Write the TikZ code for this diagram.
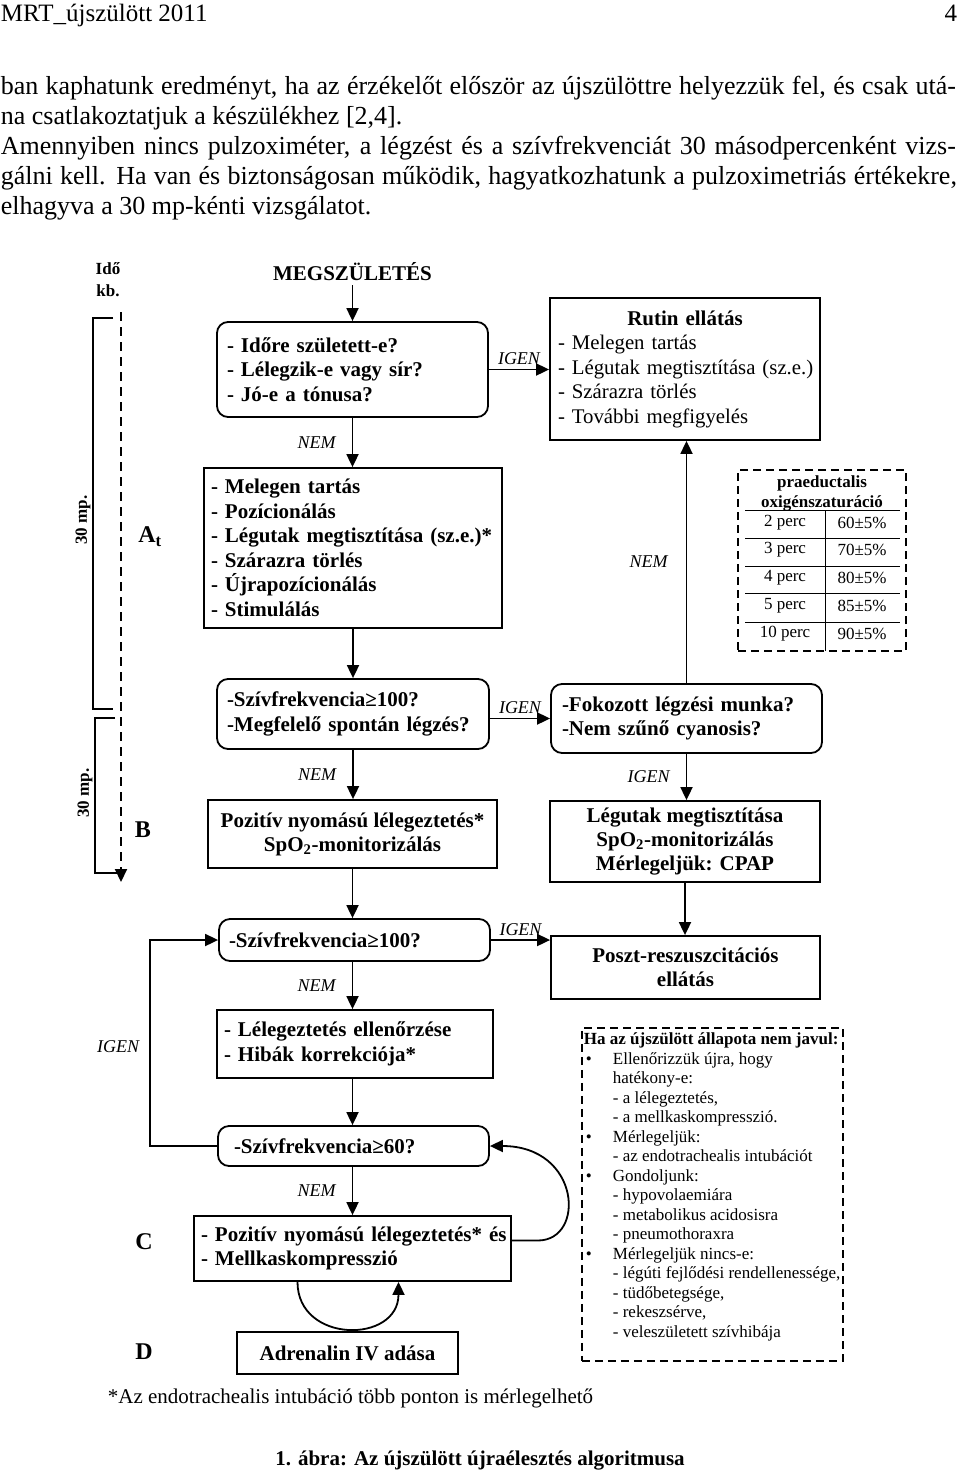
\documentclass[tikz,border=0pt]{standalone}
\usepackage{fontspec}
\setmainfont{Liberation Serif}
\usetikzlibrary{arrows.meta, positioning, calc}
\newcommand{\fsize}[2]{\fontsize{#1}{#2}\selectfont}
\newcommand{\bul}{\makebox[29pt][l]{\hspace{2pt}•}}
\newcommand{\ind}{\hspace*{29pt}}
\tikzset{
  every picture/.style={line width=1.8pt},
  txt/.style={inner sep=0pt, anchor=base west, font=\fsize{26}{30}},
  rbox/.style={draw, rounded corners=11pt, align=left, inner ysep=0pt, font=\bfseries\fsize{21}{24.5}},
  sbox/.style={draw, align=left, inner ysep=0pt, font=\bfseries\fsize{21}{24.5}},
  cbox/.style={draw, align=center, inner ysep=0pt, font=\bfseries\fsize{21}{24}},
  arr/.style={-{Triangle[length=13pt, width=12pt]}},
  lbl/.style={font=\itshape\fsize{18}{20}, inner sep=2pt},
  tag/.style={font=\bfseries\fsize{24}{26}, inner sep=0pt},
  tm/.style={font=\bfseries\fsize{17}{22}, inner sep=0pt},
  dashbox/.style={draw, dash pattern=on 8pt off 5pt, line width=1.8pt},
  cell/.style={font=\fsize{17}{20}, inner sep=0pt},
}
\begin{document}
\begin{tikzpicture}[x=1pt, y=-1pt]
  \useasboundingbox (0,0) rectangle (960,1473);
  % page text
  \node[txt, font=\fsize{25}{30}] (hdr) at (0,21) {MRT\_újszülött 2011};
  \node[txt, font=\fsize{25}{30}, anchor=base east] (pgno) at (958,21) {4};
  \node[txt] (l1) at (0,94) {\makebox[955pt][s]{ban kaphatunk eredményt, ha az érzékelőt először az újszülöttre helyezzük fel, és csak utá-}};
  \node[txt] (l2) at (0,124) {na csatlakoztatjuk a készülékhez [2,4].};
  \node[txt] (l3) at (0,154) {\makebox[955pt][s]{Amennyiben nincs pulzoximéter, a légzést és a szívfrekvenciát 30 másodpercenként vizs-}};
  \node[txt] (l4) at (0,184) {\makebox[956pt][s]{gálni kell. Ha van és biztonságosan működik, hagyatkozhatunk a pulzoximetriás értékekre,}};
  \node[txt] (l5) at (0,214) {elhagyva a 30 mp-kénti vizsgálatot.};

  % time axis
  \node[tm, align=center] (ido) at (108,280) {Idő\\kb.};
  \coordinate (ttop) at (121,312);
  \coordinate (tbot) at (121,882);
  \draw[arr, dash pattern=on 9pt off 6pt, line width=2pt] (ttop) -- (tbot);
  \draw[line width=1.5pt] (113,318) -- (93,318) -- (93,709) -- (113,709);
  \draw[line width=1.5pt] (115,718) -- (95,718) -- (95,873) -- (121,873);
  \node[tm, rotate=90] (mp1) at (83,520) {30 mp.};
  \node[tm, rotate=90] (mp2) at (85,793) {30 mp.};
  \node[tag] (tagA) at (150,537) {A\textsubscript{t}};
  \node[tag] (tagB) at (143,830) {B};
  \node[tag] (tagC) at (144,1242) {C};
  \node[tag] (tagD) at (144,1352) {D};

  % main column
  \node[font=\bfseries\fsize{21}{24}] (born) at (352.5,272) {MEGSZÜLETÉS};
  \node[rbox, inner xsep=10pt, text width=251pt, minimum height=95pt] (q1) at (352.5,369.5)
    {- Időre született-e?\\- Lélegzik-e vagy sír?\\- Jó-e a tónusa?};
  \node[sbox, inner xsep=8pt, text width=254pt, minimum height=142pt, font=\fsize{20.8}{24.5}] (rutin) at (685,369)
    {\makebox[254pt][c]{\bfseries\fsize{21}{24.5}Rutin ellátás}\\- Melegen tartás\\\mbox{- Légutak megtisztítása (sz.e.)}\\- Szárazra törlés\\- További megfigyelés};
  \node[sbox, inner xsep=7pt, text width=284pt, minimum height=160pt] (care) at (353,548)
    {- Melegen tartás\\- Pozícionálás\\\mbox{- Légutak megtisztítása (sz.e.)*}\\- Szárazra törlés\\- Újrapozícionálás\\- Stimulálás};
  \node[rbox, inner xsep=10pt, text width=252pt, minimum height=70pt] (q3) at (353,714)
    {-Szívfrekvencia≥100?\\-Megfelelő spontán légzés?};
  \node[rbox, inner xsep=11pt, text width=249pt, minimum height=69pt] (q4) at (686.5,718.5)
    {-Fokozott légzési munka?\\-Nem szűnő cyanosis?};
  \node[cbox, minimum width=289pt, minimum height=68pt] (ppv) at (352.5,834)
    {Pozitív nyomású lélegeztetés*\\SpO\textsubscript{2}-monitorizálás};
  \node[cbox, minimum width=270pt, minimum height=81pt] (cpap) at (685,841.5)
    {Légutak megtisztítása\\SpO\textsubscript{2}-monitorizálás\\Mérlegeljük: CPAP};
  \node[rbox, inner xsep=10pt, text width=251pt, minimum height=42pt] (q5) at (354.5,940)
    {-Szívfrekvencia≥100?};
  \node[cbox, minimum width=269pt, minimum height=63pt] (post) at (685.5,967.5)
    {Poszt-reszuszcitációs\\ellátás};
  \node[sbox, inner xsep=7pt, text width=262pt, minimum height=68pt] (check) at (355,1044)
    {- Lélegeztetés ellenőrzése\\- Hibák korrekciója*};
  \node[rbox, inner xsep=16pt, text width=239pt, minimum height=40pt] (q7) at (353.5,1146)
    {-Szívfrekvencia≥60?};
  \node[sbox, inner xsep=7pt, text width=303pt, minimum height=65pt] (comp) at (352.5,1248.5)
    {\mbox{- Pozitív nyomású lélegeztetés* és}\\- Mellkaskompresszió};
  \node[cbox, minimum width=221pt, minimum height=42pt] (adr) at (347.5,1353)
    {Adrenalin IV adása};

  % connectors
  \draw[arr] (born) -- (q1);
  \draw[arr] (q1.east) -- node[lbl, above=2pt] {IGEN} (q1.east -| rutin.west);
  \draw[arr] (q1) -- node[lbl, left=14pt] {NEM} (q1 |- care.north);
  \draw[arr] (care) -- (care |- q3.north);
  \draw[arr] (q4.west -| q3.east) -- node[lbl, above=2pt] {IGEN} (q4.west);
  \draw[arr] (q3) -- node[lbl, left=14pt] {NEM} (q3 |- ppv.north);
  \draw[arr] (q4.north) -- node[lbl, left=16pt] {NEM} (q4.north |- rutin.south);
  \draw[arr] (q4.south) -- node[lbl, left=14pt] {IGEN} (q4.south |- cpap.north);
  \draw[arr] (ppv.south) -- (ppv.south |- q5.north);
  \draw[arr] (cpap.south) -- (cpap.south |- post.north);
  \draw[arr] (q5.east) -- node[lbl, above=1pt] {IGEN} (q5.east -| post.west);
  \draw[arr] (q5.south -| ppv.south) -- node[lbl, left=14pt] {NEM} (ppv.south |- check.north);
  \draw[arr] (check.south -| ppv.south) -- (ppv.south |- q7.north);
  \draw[arr] (q7.south -| ppv.south) -- node[lbl, left=14pt] {NEM} (ppv.south |- comp.north);
  \coordinate (loopL) at (150,1000);
  \draw[arr] (q7.west) -| node[lbl, pos=0.84, left=8pt] {IGEN} (loopL) |- (q5.west);
  \draw[arr] ([xshift=-55pt]comp.south) .. controls +(0,62) and +(0,62) .. ([xshift=46pt]comp.south);
  \draw[arr] ([yshift=8pt]comp.east) -- ++(26,0) .. controls +(48,0) and +(91,0) .. (q7.east);

  % saturation table
  \node[dashbox, minimum width=168pt, minimum height=181pt] (oxy) at (822,560.5) {};
  \node[cell, font=\bfseries\fsize{17}{20}, align=center] (oxyh) at (822,493) {praeductalis\\oxigénszaturáció};
  \draw[line width=1pt] (745,510) -- (900,510);
  \foreach \yy in {538,566,593,622} \draw[line width=1pt] (745,\yy) -- (900,\yy);
  \draw[line width=1pt] (825,510) -- (825,651);
  \foreach \mn/\val/\yy in {2/60/523, 3/70/550, 4/80/578, 5/85/606, 10/90/634} {
    \node[cell] (pl\mn) at (785,\yy) {\mn{} perc};
    \node[cell] (pr\mn) at (862,\yy) {\val±5\%};
  }

  % info box
  \node[dashbox, minimum width=261pt, minimum height=333pt, anchor=north west, inner sep=0pt] (info) at (581,1027) {};
  \node[anchor=north west, inner sep=0pt, align=left, font=\fsize{17}{19.5}] (infotxt) at (583,1032)
    {\textbf{Ha az újszülött állapota nem javul:}\\
     \bul Ellenőrizzük újra, hogy\\ \ind hatékony-e:\\ \ind - a lélegeztetés,\\ \ind - a mellkaskompresszió.\\
     \bul Mérlegeljük:\\ \ind - az endotrachealis intubációt\\
     \bul Gondoljunk:\\ \ind - hypovolaemiára\\ \ind - metabolikus acidosisra\\ \ind - pneumothoraxra\\
     \bul Mérlegeljük nincs-e:\\ \ind - légúti fejlődési rendellenessége,\\ \ind - tüdőbetegsége,\\ \ind - rekeszsérve,\\ \ind - veleszületett szívhibája};

  \node[txt, font=\fsize{21}{24}] (fnote) at (107,1403) {*Az endotrachealis intubáció több ponton is mérlegelhető};
  \node[txt, anchor=base, font=\bfseries\fsize{21}{24}] (caption) at (480,1465) {1. ábra: Az újszülött újraélesztés algoritmusa};
\end{tikzpicture}
\end{document}
